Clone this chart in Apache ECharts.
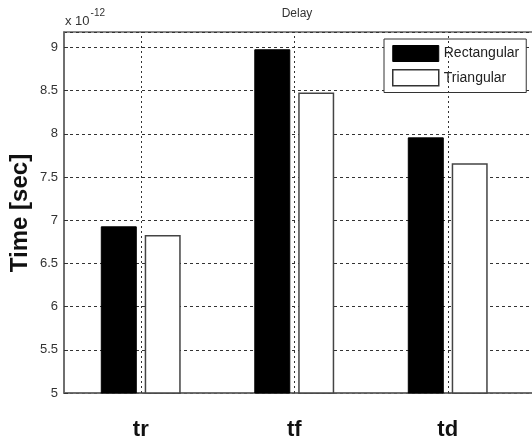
<!DOCTYPE html>
<html>
<head>
<meta charset="utf-8">
<script src="https://cdn.jsdelivr.net/npm/echarts@6/dist/echarts.min.js"></script>
<style>
  html, body { margin: 0; padding: 0; background: #fff; overflow: hidden; }
  #chart { width: 532px; height: 443px; }
</style>
</head>
<body>
<div id="chart"></div>
<script>
// Delay times, in units of 1e-12 s
const categories = ['tr', 'tf', 'td'];
const rectangular = [6.93, 8.98, 7.96];
const triangular = [6.83, 8.48, 7.66];
const seriesNames = ['Rectangular', 'Triangular'];
const yMin = 5;
const yMax = 9.18;
const yStep = 0.5;

const FONT = '"Liberation Sans", Arial, sans-serif';
const chart = echarts.init(document.getElementById('chart'), null, { renderer: 'canvas' });

// A blank trailing slot lets the frame run past the right edge.
const xCats = categories.concat(['']);

chart.setOption({
  animation: false,
  backgroundColor: '#fff',
  grid: {
    left: 64, top: 32, height: 361, width: 614,
    outerBoundsMode: 'none',
    containLabel: false,
    show: true, borderColor: '#666', borderWidth: 1.5, backgroundColor: 'transparent'
  },
  legend: {
    orient: 'vertical',
    left: 384, top: 39,
    padding: [6, 7, 6, 8],
    itemGap: 7,
    itemWidth: 46, itemHeight: 16,
    icon: 'rect',
    backgroundColor: '#fff',
    borderColor: '#333', borderWidth: 1,
    textStyle: { fontFamily: FONT, fontSize: 14, color: '#222' },
    data: [
      { name: seriesNames[0], itemStyle: { color: '#000', borderColor: '#000', borderWidth: 1 } },
      { name: seriesNames[1], itemStyle: { color: '#fff', borderColor: '#333', borderWidth: 1.5 } }
    ]
  },
  xAxis: {
    type: 'category',
    data: xCats,
    axisLine: { show: true, lineStyle: { color: '#666', width: 1.5 } },
    axisTick: { show: false },
    splitLine: { show: false },
    axisLabel: {
      fontFamily: FONT, fontSize: 22, fontWeight: 'bold', color: '#111', margin: 26
    }
  },
  yAxis: {
    type: 'value',
    min: yMin, max: yMax, interval: yStep,
    axisLine: { show: true, lineStyle: { color: '#666', width: 1.5 } },
    axisTick: { show: true, inside: true, length: 4, lineStyle: { color: '#333' } },
    axisLabel: {
      fontFamily: FONT, fontSize: 13, color: '#333', margin: 6,
      showMaxLabel: false,
      formatter: v => (Math.abs(v / yStep - Math.round(v / yStep)) < 1e-6 ? String(v) : '')
    },
    splitLine: { show: true, lineStyle: { color: '#333', width: 1, type: [3, 3] } }
  },
  graphic: [
    {
      type: 'text', x: 297, y: 14,
      style: { text: 'Delay', font: '12px ' + FONT, fill: '#333', textAlign: 'center', textVerticalAlign: 'middle' }
    },
    {
      type: 'text', x: 65, y: 7,
      style: {
        text: '{b|x 10}{s|-12}',
        rich: {
          b: { fontFamily: FONT, fontSize: 13, fill: '#333', padding: [8, 1, 0, 0] },
          s: { fontFamily: FONT, fontSize: 10, fill: '#333', padding: [0, 0, 8, 0] }
        }
      }
    },
    {
      type: 'text', x: 20, y: 213, rotation: Math.PI / 2,
      style: { text: 'Time [sec]', font: 'bold 24px ' + FONT, fill: '#111', textAlign: 'center', textVerticalAlign: 'middle' }
    }
  ],
  series: [
    {
      name: seriesNames[0],
      type: 'bar',
      data: rectangular,
      barWidth: 36,
      barGap: '22%',
      itemStyle: { color: '#000', borderColor: '#000', borderWidth: 1 }
    },
    {
      name: seriesNames[1],
      type: 'bar',
      data: triangular,
      barWidth: 36,
      itemStyle: { color: '#fff', borderColor: '#444', borderWidth: 1.5 }
    },
    {
      // vertical grid lines through each category centre
      name: 'xgrid',
      type: 'line',
      data: [],
      silent: true,
      markLine: {
        silent: true,
        symbol: ['none', 'none'],
        label: { show: false },
        lineStyle: { color: '#333', width: 1, type: [2, 3] },
        emphasis: { disabled: true },
        data: categories.map(c => ({ xAxis: c }))
      }
    }
  ]
});
</script>
</body>
</html>
